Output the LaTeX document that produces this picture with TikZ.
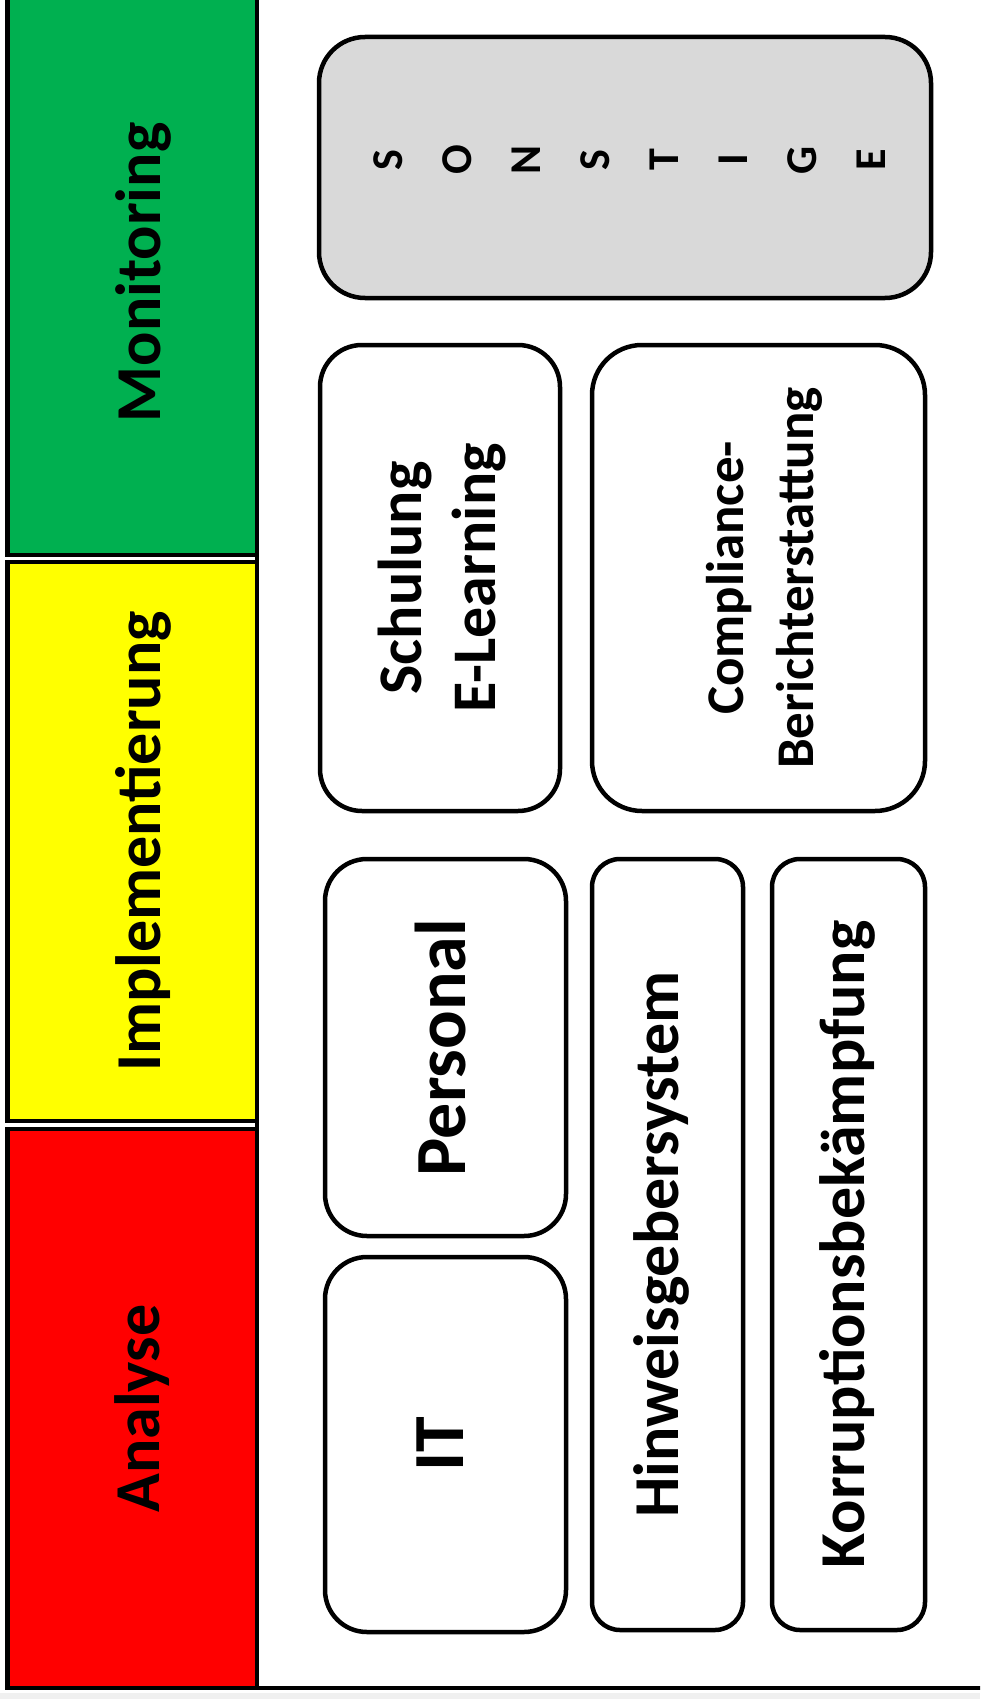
\documentclass[tikz,border=0pt]{standalone}
\usepackage{fontspec}
\setmainfont{Carlito}
\definecolor{mongreen}{HTML}{00B050}
\definecolor{impyellow}{HTML}{FFFF00}
\definecolor{anared}{HTML}{FF0000}
\definecolor{sonstgray}{HTML}{D9D9D9}
\begin{document}
\begin{tikzpicture}[x=1pt,y=-1pt,
		bar/.style={draw,line width=4.5pt,rotate=90,minimum height=249.5pt,inner sep=0pt},
		box/.style={draw,line width=4.5pt,rounded corners=42pt,fill=white,rotate=90,inner sep=0pt},
		txt/.style={rotate=90,inner sep=0pt,align=center},
		barfont/.style={font=\fontsize{64}{70}\selectfont\bfseries},
		big/.style={font=\fontsize{72}{80}\selectfont\bfseries},
		mid/.style={font=\fontsize{62}{74}\selectfont\bfseries},
		long/.style={font=\fontsize{64}{74}\selectfont\bfseries},
		small/.style={font=\fontsize{53}{70}\selectfont\bfseries}]
	\useasboundingbox (0,0) rectangle (980,1699);
	\clip (0,0) rectangle (980,1699);
	\fill[black!6] (0,1693) rectangle (980,1699);
	\node[bar,fill=mongreen,minimum width=565pt] (monitoring) at (132,272.5) {};
	\node[bar,fill=impyellow,minimum width=559pt] (implementierung) at (132,841.5) {};
	\node[bar,fill=anared,minimum width=559pt] (analyse) at (132,1408.5) {};
	\node[txt,barfont] (montxt) at ([xshift=11pt]monitoring.center) {Monitoring};
	\node[txt,barfont] (imptxt) at ([xshift=11pt]implementierung.center) {Implementierung};
	\node[txt,barfont] (anatxt) at ([xshift=10pt]analyse.center) {Analyse};
	\draw[line width=4.5pt] (257,-10) -- (257,1688) -- (990,1688);
	\node[box,fill=sonstgray,rounded corners=46pt,minimum width=261pt,minimum height=612pt] (sonstige) at (625,167.5) {};
	\foreach \ch [count=\i from 0] in {S,O,N,S,T,I,G,E}
		\node[txt,font=\fontsize{44}{50}\selectfont\bfseries] (son\i) at ({388+69*\i},160) {\ch};
	\node[box,minimum width=466pt,minimum height=240pt] (schulung) at (440,578) {};
	\node[box,rounded corners=50pt,minimum width=466pt,minimum height=333pt] (compliance) at (758.5,578) {};
	\node[box,minimum width=377pt,minimum height=241pt] (personal) at (445.5,1047.5) {};
	\node[box,minimum width=375pt,minimum height=241pt] (it) at (445.5,1444.5) {};
	\node[box,rounded corners=28pt,minimum width=771pt,minimum height=151pt] (hinweis) at (667.5,1244.5) {};
	\node[box,rounded corners=28pt,minimum width=771pt,minimum height=153pt] (korruption) at (848.5,1244.5) {};
	\node[txt,mid] (schulungtxt) at ([xshift=2pt]schulung.center) {Schulung\\E-Learning};
	\node[txt,small] (compliancetxt) at ([xshift=6pt]compliance.center) {Compliance-\\Berichterstattung};
	\node[txt,big] (personaltxt) at ([xshift=-5.5pt]personal.center) {Personal};
	\node[txt,big] (ittxt) at ([xshift=-5.5pt]it.center) {IT};
	\node[txt,long] (hinweistxt) at ([xshift=-6.5pt]hinweis.center) {Hinweisgebersystem};
	\node[txt,long] (korruptiontxt) at ([xshift=-1.5pt]korruption.center) {Korruptionsbekämpfung};
\end{tikzpicture}
\end{document}
